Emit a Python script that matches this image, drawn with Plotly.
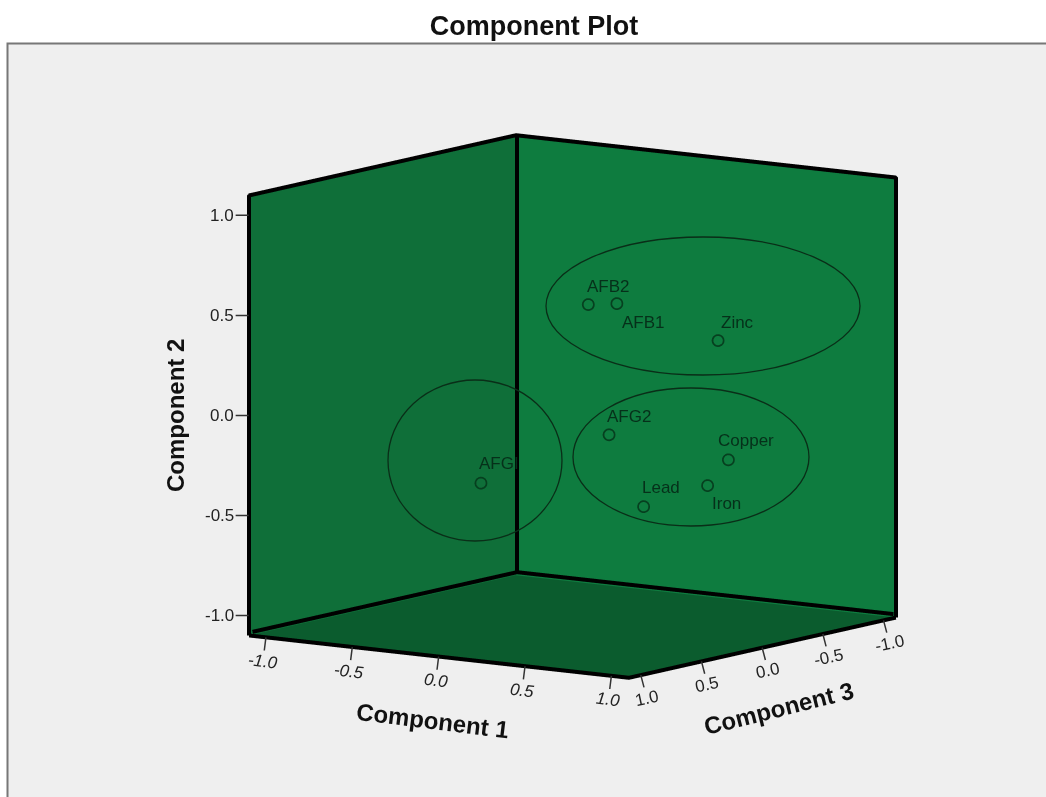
import plotly.graph_objects as go

names = ["AFB2", "AFB1", "Zinc", "AFG2", "Copper", "Iron", "Lead", "AFGI"]
component1 = [0.23, 0.29, 0.63, 0.28, 0.76, 0.71, 0.48, 0.03]
component2 = [0.56, 0.55, 0.35, -0.10, -0.22, -0.34, -0.44, -0.27]
component3 = [0.20, 0.05, -0.30, 0.10, -0.20, -0.10, 0.10, 0.80]
tick_values = [-1.0, -0.5, 0.0, 0.5, 1.0]
tick_labels = ["-1.0", "-0.5", "0.0", "0.5", "1.0"]
lim = 1.1

# style: pixel offset of each point's label from its marker
label_shift_x = [21, 27, 20, 21, 18, 20, 18, 19]
label_shift_y = [18, -19, 18, 18, 19, -18, 19, 19]

# plotly x = component 3, plotly y = component 1, plotly z = component 2
inner = 1.08  # edges lying on a wall are pulled slightly off it so the wall does not hide half the line
edge_segments = [
    [(-inner, -inner, -inner), (-inner, -inner, lim)],
    [(lim, -inner, -inner), (-inner, -inner, -inner), (-inner, lim, -inner)],
    [(lim, -lim, -lim), (lim, lim, -lim), (-lim, lim, -lim)],
    [(lim, -lim, -lim), (lim, -lim, lim), (-lim, -lim, lim), (-lim, lim, lim), (-lim, lim, -lim)],
]
edges_x, edges_y, edges_z = [], [], []
for segment in edge_segments:
    for px, py, pz in segment:
        edges_x.append(px)
        edges_y.append(py)
        edges_z.append(pz)
    edges_x.append(None)
    edges_y.append(None)
    edges_z.append(None)

fig = go.Figure()
fig.add_trace(go.Scatter3d(x=edges_x, y=edges_y, z=edges_z, mode="lines",
                           line=dict(color="#000000", width=8), hoverinfo="skip", showlegend=False))
fig.add_trace(go.Scatter3d(x=component3, y=component1, z=component2, mode="markers", text=names,
                           marker=dict(size=7, color="#06401f", symbol="circle-open",
                                       line=dict(color="#06401f", width=2)),
                           showlegend=False))


def axis(bg):
    return dict(range=[-lim, lim], autorange=False, tickvals=tick_values, ticktext=tick_labels,
                showgrid=False, zeroline=False, showline=False, showspikes=False,
                showbackground=True, backgroundcolor=bg, ticks="", showticklabels=False,
                title=dict(text=""))


def tick(x, y, z, text, angle, ax, ay, **kw):
    return dict(x=x, y=y, z=z, text=text, textangle=angle, showarrow=True, arrowhead=0, arrowwidth=1.5,
                arrowcolor="#333333", ax=ax, ay=ay, font=dict(family="Liberation Sans", size=17, color="#222222"), **kw)


scene_notes = []
for value, label in zip(tick_values, tick_labels):
    scene_notes.append(tick(lim, -lim, value, label, 0, -13, 0, xanchor="right"))
    scene_notes.append(tick(lim, value, -lim, "<i>" + label + "</i>", 7, -3, 24))
    scene_notes.append(tick(value, lim, -lim, label, -12, 6, 23))
for name, c1, c2, c3, dx, dy in zip(names, component1, component2, component3, label_shift_x, label_shift_y):
    scene_notes.append(dict(x=c3, y=c1, z=c2, text=name, showarrow=False, xshift=dx, yshift=dy,
                            font=dict(family="Liberation Sans", size=17, color="#06301a")))

fig.update_layout(
    width=1046, height=797, margin=dict(l=0, r=0, t=0, b=0), paper_bgcolor="#ffffff",
    title=dict(text="<b>Component Plot</b>", x=534 / 1046, xanchor="center", y=1 - 26 / 797, yanchor="middle",
               font=dict(family="Liberation Sans", size=27, color="#111111")),
    scene=dict(
        domain=dict(x=[0.10, 0.994], y=[0.02, 0.96]),
        xaxis=axis("#0e7c3f"),
        yaxis=axis("#0f6f39"),
        zaxis=axis("#0b5c2e"),
        aspectmode="manual", aspectratio=dict(x=1.24, y=1.24, z=1.19),
        camera=dict(eye=dict(x=1.157, y=0.813, z=0.227), up=dict(x=0, y=0, z=1),
                    center=dict(x=0, y=0, z=0), projection=dict(type="orthographic")),
        annotations=scene_notes,
    ),
    shapes=[
        dict(type="rect", xref="paper", yref="paper", x0=7.5 / 1046, x1=1.01, y0=-0.01, y1=1 - 43.5 / 797,
             line=dict(color="#777777", width=2), fillcolor="#efefef", layer="below"),
        dict(type="circle", xref="paper", yref="paper", x0=546 / 1046, x1=860 / 1046, y0=1 - 375 / 797, y1=1 - 237 / 797,
             line=dict(color="#0a2e18", width=1.3), layer="above"),
        dict(type="circle", xref="paper", yref="paper", x0=573 / 1046, x1=809 / 1046, y0=1 - 526 / 797, y1=1 - 388 / 797,
             line=dict(color="#0a2e18", width=1.3), layer="above"),
        dict(type="circle", xref="paper", yref="paper", x0=388 / 1046, x1=562 / 1046, y0=1 - 541 / 797, y1=1 - 380 / 797,
             line=dict(color="#0a2e18", width=1.3), layer="above"),
    ],
    annotations=[
        dict(text="<b>Component 1</b>", xref="paper", yref="paper", x=432 / 1046, y=1 - 720 / 797, showarrow=False,
             xanchor="center", yanchor="middle", textangle=7, font=dict(family="Liberation Sans", size=24, color="#111111")),
        dict(text="<b>Component 3</b>", xref="paper", yref="paper", x=778 / 1046, y=1 - 708 / 797, showarrow=False,
             xanchor="center", yanchor="middle", textangle=-14, font=dict(family="Liberation Sans", size=24, color="#111111")),
        dict(text="<b>Component 2</b>", xref="paper", yref="paper", x=175 / 1046, y=1 - 416 / 797, showarrow=False,
             xanchor="center", yanchor="middle", textangle=-90, font=dict(family="Liberation Sans", size=24, color="#111111")),
    ],
)
fig.write_html("out.html", config=dict(displayModeBar=False),
               post_script="document.body.style.margin='0';document.body.style.overflow='hidden';")
